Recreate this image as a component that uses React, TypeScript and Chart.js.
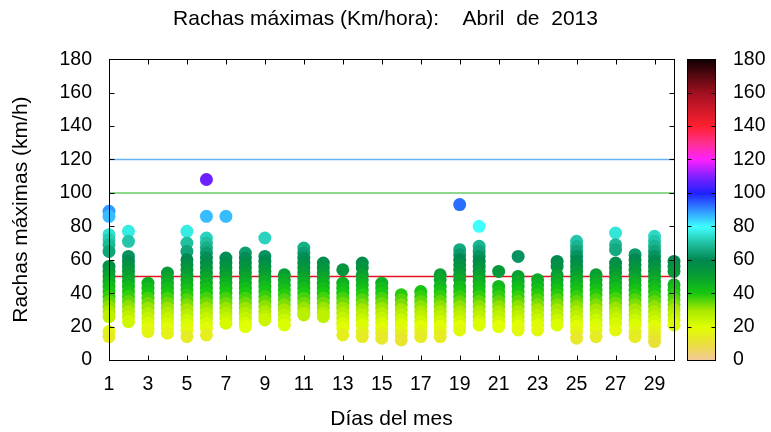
import React, { useEffect, useRef } from 'react';
import { Chart, registerables } from 'chart.js';

Chart.register(...registerables);

const titulo = 'Rachas máximas (Km/hora):    Abril  de  2013';
const tituloY = 'Rachas máximas (km/h)';
const tituloX = 'Días del mes';

const diasRango = [1, 30];
const xTicks = [1, 3, 5, 7, 9, 11, 13, 15, 17, 19, 21, 23, 25, 27, 29];
const yRango = [0, 180];
const yPaso = 20;

const umbrales = [120, 100, 50];
const umbralColores = ['#66b2f5', '#66cc66', '#e0141e'];

// Rachas registradas por día (km/h)
const d01 = [89, 86, 75, 72, 69, 65, 56, 53, 50, 47, 44, 41, 38, 35, 32, 29, 26, 17, 14];
const d02 = [77, 71, 62, 59, 56, 53, 50, 47, 44, 41, 38, 35, 32, 29, 26, 23];
const d03 = [46, 43, 40, 37, 34, 31, 28, 25, 22, 19, 17];
const d04 = [52, 49, 46, 43, 40, 37, 34, 31, 28, 25, 22, 19, 16];
const d05 = [77, 70, 65, 60, 57, 54, 51, 48, 45, 42, 39, 36, 33, 30, 27, 24, 21, 18, 14];
const d06 = [108, 86, 73, 70, 67, 64, 61, 58, 55, 52, 49, 46, 43, 40, 37, 34, 31, 28, 25, 22, 19, 15];
const d07 = [86, 61, 58, 55, 52, 49, 46, 43, 40, 37, 34, 31, 28, 25, 22];
const d08 = [64, 61, 58, 55, 52, 49, 46, 43, 40, 37, 34, 31, 28, 25, 22, 20];
const d09 = [73, 62, 59, 56, 53, 50, 47, 44, 41, 38, 35, 32, 29, 26, 24];
const d10 = [51, 48, 45, 42, 39, 36, 33, 30, 27, 24, 21];
const d11 = [67, 64, 61, 58, 55, 52, 49, 46, 43, 40, 37, 34, 31, 28, 27];
const d12 = [58, 55, 52, 49, 46, 43, 40, 37, 34, 31, 28, 26];
const d13 = [54, 46, 43, 40, 37, 34, 31, 28, 25, 22, 19, 15];
const d14 = [58, 55, 51, 48, 45, 42, 39, 36, 33, 30, 27, 24, 21, 17, 14];
const d15 = [46, 43, 40, 37, 34, 31, 28, 25, 22, 19, 16, 13];
const d16 = [39, 36, 33, 30, 27, 24, 21, 18, 15, 12];
const d17 = [41, 38, 35, 32, 29, 26, 23, 20, 17, 14];
const d18 = [51, 48, 44, 41, 38, 35, 32, 29, 26, 23, 20, 17, 14];
const d19 = [93, 66, 63, 60, 57, 54, 51, 48, 44, 41, 38, 35, 32, 29, 26, 23, 20, 18];
const d20 = [80, 68, 65, 62, 59, 56, 53, 50, 47, 44, 41, 38, 35, 32, 29, 26, 23, 21];
const d21 = [53, 44, 41, 38, 35, 32, 29, 26, 23, 20];
const d22 = [62, 50, 47, 44, 41, 38, 35, 32, 29, 26, 23, 20, 18];
const d23 = [48, 45, 42, 39, 36, 33, 30, 27, 24, 21, 18];
const d24 = [59, 56, 51, 48, 45, 42, 39, 36, 33, 30, 27, 24, 21];
const d25 = [71, 68, 65, 62, 59, 56, 53, 50, 47, 44, 41, 38, 35, 32, 29, 26, 23, 20, 17, 13];
const d26 = [51, 48, 45, 42, 39, 36, 33, 30, 27, 24, 21, 18, 14];
const d27 = [76, 69, 66, 58, 55, 52, 49, 46, 43, 40, 37, 34, 31, 28, 25, 22, 18];
const d28 = [63, 60, 57, 54, 51, 48, 45, 42, 39, 36, 33, 30, 27, 24, 21, 17, 14];
const d29 = [74, 71, 68, 65, 62, 59, 56, 53, 50, 47, 44, 41, 38, 35, 32, 29, 26, 23, 20, 17, 14, 11];
const d30 = [59, 56, 53, 45, 42, 39, 36, 33, 30, 27, 24, 21];

const dias = [
  1, 2, 3, 4, 5, 6, 7, 8, 9, 10, 11, 12, 13, 14, 15,
  16, 17, 18, 19, 20, 21, 22, 23, 24, 25, 26, 27, 28, 29, 30,
];
const rachas = [
  d01, d02, d03, d04, d05, d06, d07, d08, d09, d10,
  d11, d12, d13, d14, d15, d16, d17, d18, d19, d20,
  d21, d22, d23, d24, d25, d26, d27, d28, d29, d30,
];

const paletaValores = [0, 10, 20, 30, 40, 50, 60, 70, 80, 90, 100, 110, 120, 130, 140, 160, 180];
const paletaColores = [
  '#f2c89a', '#eadf3c', '#e0ff00', '#a8e800', '#18c810', '#08a030', '#008850',
  '#20c0a0', '#40ffff', '#3090ff', '#2020ff', '#8020ff', '#ff20ff', '#ff3090',
  '#ff2030', '#a01020', '#100000',
];

function hexRgb(h: string): number[] {
  const n = parseInt(h.slice(1), 16);
  return [(n >> 16) & 255, (n >> 8) & 255, n & 255];
}

function paleta(v: number): string {
  const vals = paletaValores;
  if (v <= vals[0]) return paletaColores[0];
  for (let i = 1; i < vals.length; i++) {
    if (v <= vals[i]) {
      const t = (v - vals[i - 1]) / (vals[i] - vals[i - 1]);
      const a = hexRgb(paletaColores[i - 1]);
      const b = hexRgb(paletaColores[i]);
      const c = a.map((x, k) => Math.round(x + (b[k] - x) * t));
      return `rgb(${c[0]},${c[1]},${c[2]})`;
    }
  }
  return paletaColores[paletaColores.length - 1];
}

const marcoPlugin = {
  id: 'marco',
  afterDatasetsDraw(chart: any) {
    const { ctx, chartArea: a, scales } = chart;
    const xs = scales.x;
    const ys = scales.y;
    const cb = scales.cb;
    const L = Math.round(a.left) + 0.5;
    const R = Math.round(a.right) + 0.5;
    const T = Math.round(a.top) + 0.5;
    const B = Math.round(a.bottom) + 0.5;
    const tl = 5;
    ctx.save();
    ctx.strokeStyle = '#000';
    ctx.lineWidth = 1;
    ctx.strokeRect(L, T, R - L, B - T);
    ctx.beginPath();
    xTicks.forEach((v) => {
      const px = Math.round(xs.getPixelForValue(v)) + 0.5;
      ctx.moveTo(px, B);
      ctx.lineTo(px, B - tl);
      ctx.moveTo(px, T);
      ctx.lineTo(px, T + tl);
    });
    ys.ticks.forEach((t: any) => {
      const py = Math.round(ys.getPixelForValue(t.value)) + 0.5;
      ctx.moveTo(L, py);
      ctx.lineTo(L + tl, py);
      ctx.moveTo(R, py);
      ctx.lineTo(R - tl, py);
    });
    ctx.stroke();

    // barra de color
    const c0 = Math.round(cb.getPixelForValue(yRango[0])) + 0.5;
    const c1 = Math.round(cb.getPixelForValue(yRango[1])) + 0.5;
    const cl = Math.round(cb.left) + 13.5;
    const cr = Math.round(cb.left) + 41.5;
    const g = ctx.createLinearGradient(0, c0, 0, c1);
    paletaValores.forEach((v, i) => g.addColorStop((v - yRango[0]) / (yRango[1] - yRango[0]), paletaColores[i]));
    ctx.fillStyle = g;
    ctx.fillRect(cl, c1, cr - cl, c0 - c1);
    ctx.strokeRect(cl, c1, cr - cl, c0 - c1);
    ctx.beginPath();
    cb.ticks.forEach((t: any) => {
      const py = Math.round(cb.getPixelForValue(t.value)) + 0.5;
      ctx.moveTo(cl, py);
      ctx.lineTo(cl + 4, py);
      ctx.moveTo(cr, py);
      ctx.lineTo(cr - 4, py);
    });
    ctx.stroke();
    ctx.restore();
  },
};

export default function App() {
  const ref = useRef<HTMLCanvasElement | null>(null);

  useEffect(() => {
    if (!ref.current) return;
    const puntos: { x: number; y: number }[] = [];
    dias.forEach((d, i) => {
      rachas[i].forEach((v) => puntos.push({ x: d, y: v }));
    });

    const lineas = umbrales.map((u, i) => ({
      type: 'line' as const,
      data: [
        { x: diasRango[0], y: u },
        { x: diasRango[1], y: u },
      ],
      borderColor: umbralColores[i],
      borderWidth: 1.5,
      pointRadius: 0,
      showLine: true,
      fill: false,
    }));

    const fuente = 'Liberation Sans, Arial, Helvetica, sans-serif';
    const sinPadding = (s: any) => {
      s.paddingTop = 0;
      s.paddingBottom = 0;
      s.paddingLeft = 0;
      s.paddingRight = 0;
    };

    const chart = new Chart(ref.current, {
      type: 'scatter',
      data: {
        datasets: [
          {
            data: puntos,
            pointRadius: 6.5,
            pointHoverRadius: 6.5,
            pointBorderWidth: 0,
            pointBackgroundColor: (c: any) => paleta(c.raw ? c.raw.y : 0),
            pointBorderColor: 'rgba(0,0,0,0)',
            clip: false as any,
          } as any,
          ...lineas,
        ],
      },
      options: {
        animation: false,
        responsive: false,
        events: [],
        layout: { padding: 0 },
        font: { family: fuente },
        plugins: {
          legend: { display: false },
          tooltip: { enabled: false },
          title: {
            display: true,
            text: titulo,
            color: '#000',
            font: { family: fuente, size: 21, weight: 'normal' },
            padding: { top: 7, bottom: 27 },
          },
        },
        scales: {
          x: {
            type: 'linear',
            min: diasRango[0],
            max: diasRango[1],
            afterBuildTicks: (s: any) => {
              s.ticks = xTicks.map((v) => ({ value: v }));
            },
            afterFit: (s: any) => {
              s.height = 72;
              sinPadding(s);
            },
            grid: { display: false, drawTicks: false },
            border: { display: false },
            ticks: {
              padding: 13,
              color: '#000',
              font: { family: fuente, size: 19.5 },
              maxRotation: 0,
              autoSkip: false,
            },
            title: {
              display: true,
              text: tituloX,
              color: '#000',
              font: { family: fuente, size: 21 },
              padding: { top: 0, bottom: 0 },
            },
          },
          y: {
            type: 'linear',
            min: yRango[0],
            max: yRango[1],
            afterFit: (s: any) => {
              s.width = 109;
              sinPadding(s);
            },
            grid: { display: false, drawTicks: false },
            border: { display: false },
            ticks: {
              stepSize: yPaso,
              padding: 17,
              color: '#000',
              font: { family: fuente, size: 19.5 },
            },
            title: {
              display: true,
              text: tituloY,
              color: '#000',
              font: { family: fuente, size: 21 },
              padding: { top: 9, bottom: 0 },
            },
          },
          cb: {
            type: 'linear',
            position: 'right',
            min: yRango[0],
            max: yRango[1],
            afterFit: (s: any) => {
              s.width = 97;
              sinPadding(s);
            },
            grid: { display: false, drawTicks: false },
            border: { display: false },
            ticks: {
              stepSize: yPaso,
              padding: 59,
              color: '#000',
              font: { family: fuente, size: 19.5 },
            },
          },
        },
      } as any,
      plugins: [marcoPlugin],
    });
    return () => chart.destroy();
  }, []);

  return (
    <div style={{ position: 'fixed', left: 0, top: 0, width: 771, height: 432, background: '#fff' }}>
      <canvas ref={ref} width={771} height={432} style={{ display: 'block', width: 771, height: 432 }} />
    </div>
  );
}
